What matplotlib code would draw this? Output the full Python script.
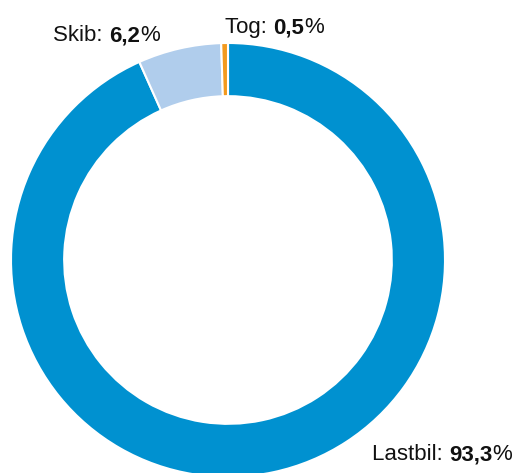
import matplotlib.pyplot as plt

# Transport mode shares (%)
categories = ["Lastbil", "Skib", "Tog"]
shares = [93.3, 6.2, 0.5]
colors = ["#0091D0", "#B0CDEC", "#F39A1E"]

plt.rcParams["font.family"] = ["Liberation Sans", "DejaVu Sans"]

fig = plt.figure(figsize=(5.16, 4.73), dpi=100)
ax = fig.add_axes([0, 0, 1, 1])

ax.pie(shares, colors=colors, startangle=90, counterclock=False, radius=1.0,
       wedgeprops=dict(width=0.245, edgecolor="white", linewidth=1.5))

# canvas spans 516x473 px with the ring centred at (228, 260) and r = 217 px
R_PX = 217.0
ax.set_xlim(-228 / R_PX, (516 - 228) / R_PX)
ax.set_ylim(-(473 - 260) / R_PX, 260 / R_PX)
ax.set_aspect("auto")
ax.axis("off")


def fmt(v):
    return f"{v:.1f}".replace(".", ",")


def label(x, y, name, value):
    """Draw 'Name: <b>value</b>%' starting at (x, y), left/bottom aligned."""
    parts = [(f"{name}: ", "normal"), (fmt(value), "bold"), ("%", "normal")]
    prev = None
    for text, weight in parts:
        if prev is None:
            prev = ax.text(x, y, text, ha="left", va="bottom", fontsize=16,
                           fontweight=weight, color="#111111")
        else:
            prev = ax.annotate(text, xy=(1, 0), xycoords=prev, ha="left",
                               va="bottom", fontsize=16, fontweight=weight,
                               color="#111111")


positions = {
    "Lastbil": (0.664, -0.945),
    "Skib": (-0.805, 0.985),
    "Tog": (-0.012, 1.022),
}
for name, value in zip(categories, shares):
    label(*positions[name], name, value)

fig.savefig("out.png", dpi=100)
